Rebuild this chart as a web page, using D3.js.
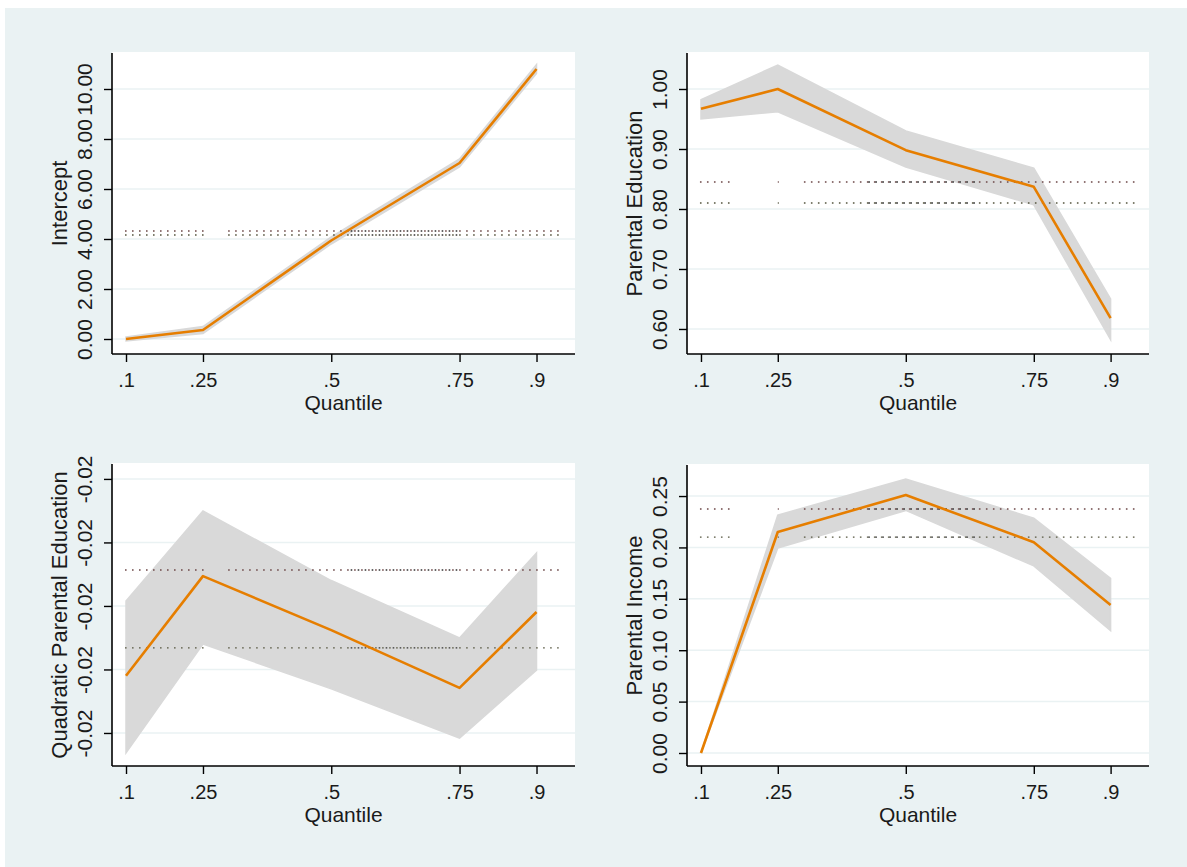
<!DOCTYPE html>
<html>
<head>
<meta charset="utf-8">
<script src="https://cdn.jsdelivr.net/npm/d3@7"></script>
<style>
  body { margin: 0; background: #fff; }
  text { font-family: "Liberation Sans", Arial, sans-serif; fill: #1a1a1a; }
</style>
</head>
<body>
<div id="chart"></div>
<script>
// quantiles and x axis
let quantiles = [0.1, 0.25, 0.5, 0.75, 0.9];
let xTicks = [0.1, 0.25, 0.5, 0.75, 0.9];
let xTickLabels = [".1", ".25", ".5", ".75", ".9"];

// Intercept
let interceptCoef = [0.00, 0.36, 3.94, 7.04, 10.80];
let interceptLo   = [-0.08, 0.22, 3.80, 6.88, 10.62];
let interceptHi   = [0.08, 0.50, 4.08, 7.20, 10.98];
let interceptRef  = [4.32, 4.16];
let interceptTicks = [0, 2, 4, 6, 8, 10];
let interceptTickLabels = ["0.00", "2.00", "4.00", "6.00", "8.00", "10.00"];

// Parental Education
let paredCoef = [0.967, 1.000, 0.898, 0.837, 0.618];
let paredLo   = [0.950, 0.962, 0.870, 0.807, 0.582];
let paredHi   = [0.982, 1.040, 0.930, 0.868, 0.650];
let paredRef  = [0.845, 0.810];
let paredTicks = [0.6, 0.7, 0.8, 0.9, 1.0];
let paredTickLabels = ["0.60", "0.70", "0.80", "0.90", "1.00"];

// Quadratic Parental Education
let quadCoef = [-0.02220, -0.01906, -0.02076, -0.02258, -0.02019];
let quadLo   = [-0.02463, -0.02120, -0.02261, -0.02416, -0.02202];
let quadHi   = [-0.01984, -0.01701, -0.01920, -0.02101, -0.01833];
let quadRef  = [-0.01887, -0.02132];
let quadTicks = [-0.024, -0.022, -0.020, -0.018, -0.016];
let quadTickLabels = ["-0.02", "-0.02", "-0.02", "-0.02", "-0.02"];

// Parental Income
let pincCoef = [0.000, 0.215, 0.251, 0.205, 0.144];
let pincLo   = [0.000, 0.1995, 0.236, 0.182, 0.119];
let pincHi   = [0.000, 0.2315, 0.2665, 0.2285, 0.170];
let pincRef  = [0.2374, 0.210];
let pincTicks = [0, 0.05, 0.10, 0.15, 0.20, 0.25];
let pincTickLabels = ["0.00", "0.05", "0.10", "0.15", "0.20", "0.25"];

// quantile ranges covered by the dotted reference lines
let refSegsLeft  = [[0.098, 0.254], [0.299, 0.953]];
let refDenseLeft = [0.531, 0.752];
let refSegsRight  = [[0.098, 0.157], [0.25, 0.252], [0.301, 0.955]];
let refDenseRight = [0.42, 0.64];

const W = 1187, H = 867;
const svg = d3.select("#chart").append("svg")
    .attr("width", W).attr("height", H);

svg.append("rect").attr("x", 5).attr("y", 8)
    .attr("width", W - 5).attr("height", H - 8)
    .attr("fill", "#EAF2F3");

const panels = [
  {title: "Intercept", coef: interceptCoef, lo: interceptLo, hi: interceptHi, ref: interceptRef,
   ticks: interceptTicks, tickLabels: interceptTickLabels, yDomain: [-0.6, 11.44],
   x0: 112, x1: 575, y0: 53, y1: 354, segs: refSegsLeft, dense: refDenseLeft},
  {title: "Parental Education", coef: paredCoef, lo: paredLo, hi: paredHi, ref: paredRef,
   ticks: paredTicks, tickLabels: paredTickLabels, yDomain: [0.5583, 1.06],
   x0: 687, x1: 1149, y0: 53, y1: 354, segs: refSegsRight, dense: refDenseRight},
  {title: "Quadratic Parental Education", coef: quadCoef, lo: quadLo, hi: quadHi, ref: quadRef,
   ticks: quadTicks, tickLabels: quadTickLabels, yDomain: [-0.02504, -0.01553],
   x0: 112, x1: 575, y0: 464, y1: 766, segs: refSegsLeft, dense: refDenseLeft},
  {title: "Parental Income", coef: pincCoef, lo: pincLo, hi: pincHi, ref: pincRef,
   ticks: pincTicks, tickLabels: pincTickLabels, yDomain: [-0.01265, 0.2802],
   x0: 687, x1: 1149, y0: 465, y1: 766, segs: refSegsRight, dense: refDenseRight}
];

const refColors = ["#6e4848", "#55553f"];

panels.forEach(p => {
  const x = d3.scaleLinear().domain([0.0727, 0.975]).range([p.x0, p.x1]);
  const y = d3.scaleLinear().domain(p.yDomain).range([p.y1, p.y0]);
  const g = svg.append("g");

  g.append("rect").attr("x", p.x0).attr("y", p.y0 - 1)
      .attr("width", p.x1 - p.x0).attr("height", p.y1 - p.y0 + 1)
      .attr("fill", "#fff");

  // gridlines
  g.selectAll(".grid").data(p.ticks).enter().append("line")
      .attr("x1", p.x0).attr("x2", p.x1)
      .attr("y1", d => y(d)).attr("y2", d => y(d))
      .attr("stroke", "#EAF2F3").attr("stroke-width", 1.5);

  // confidence band
  const area = d3.area()
      .x((d, i) => x(quantiles[i]))
      .y0((d, i) => y(p.lo[i]))
      .y1((d, i) => y(p.hi[i]));
  g.append("path").datum(p.coef).attr("d", area)
      .attr("fill", "#D9D9D9")
      .attr("stroke", "#D9D9D9").attr("stroke-width", 1.5);

  // dotted reference lines
  p.ref.forEach((r, k) => {
    p.segs.forEach(s => {
      g.append("line")
          .attr("x1", x(s[0])).attr("x2", x(s[1]))
          .attr("y1", y(r)).attr("y2", y(r))
          .attr("stroke", refColors[k]).attr("stroke-width", 1.4)
          .attr("stroke-dasharray", "1.6,5.4");
    });
    g.append("line")
        .attr("x1", x(p.dense[0]) + 3.5).attr("x2", x(p.dense[1]))
        .attr("y1", y(r)).attr("y2", y(r))
        .attr("stroke", "#333").attr("stroke-width", 1.4)
        .attr("stroke-dasharray", "1.6,5.4");
  });

  // coefficient line
  const line = d3.line()
      .x((d, i) => x(quantiles[i]))
      .y(d => y(d));
  g.append("path").datum(p.coef).attr("d", line)
      .attr("fill", "none").attr("stroke", "#E67E00")
      .attr("stroke-width", 2.6).attr("stroke-linejoin", "round");

  // y axis
  const yAxis = d3.axisLeft(y).tickValues(p.ticks)
      .tickFormat((d, i) => p.tickLabels[i]).tickSize(8).tickSizeOuter(0);
  const ya = g.append("g").attr("transform", `translate(${p.x0},0)`).call(yAxis);
  ya.select(".domain").attr("d", `M0,${p.y0}V${p.y1}`).attr("stroke", "#000").attr("stroke-width", 1.6);
  ya.selectAll(".tick line").attr("stroke", "#000").attr("stroke-width", 1.4);
  ya.selectAll(".tick text")
      .attr("x", 0).attr("dy", null)
      .attr("transform", "translate(-20,0) rotate(-90)")
      .attr("text-anchor", "middle")
      .style("font-size", "21px").style("font-family", "'Liberation Sans', Arial, sans-serif")
      .attr("fill", "#1a1a1a");

  // x axis
  const xAxis = d3.axisBottom(x).tickValues(xTicks)
      .tickFormat((d, i) => xTickLabels[i]).tickSize(8).tickSizeOuter(0);
  const xa = g.append("g").attr("transform", `translate(0,${p.y1})`).call(xAxis);
  xa.select(".domain").attr("d", `M${p.x0},0H${p.x1}`).attr("stroke", "#000").attr("stroke-width", 1.6);
  xa.selectAll(".tick line").attr("stroke", "#000").attr("stroke-width", 1.4);
  xa.selectAll(".tick text")
      .attr("y", 33).attr("dy", null)
      .style("font-size", "20px").style("font-family", "'Liberation Sans', Arial, sans-serif")
      .attr("fill", "#1a1a1a");

  // titles
  g.append("text")
      .attr("transform", `translate(${p.x0 - 45},${(p.y0 + p.y1) / 2}) rotate(-90)`)
      .attr("text-anchor", "middle").style("font-size", "22px")
      .text(p.title);
  g.append("text")
      .attr("x", (p.x0 + p.x1) / 2).attr("y", p.y1 + 56)
      .attr("text-anchor", "middle").style("font-size", "21px")
      .text("Quantile");
});
</script>
</body>
</html>
